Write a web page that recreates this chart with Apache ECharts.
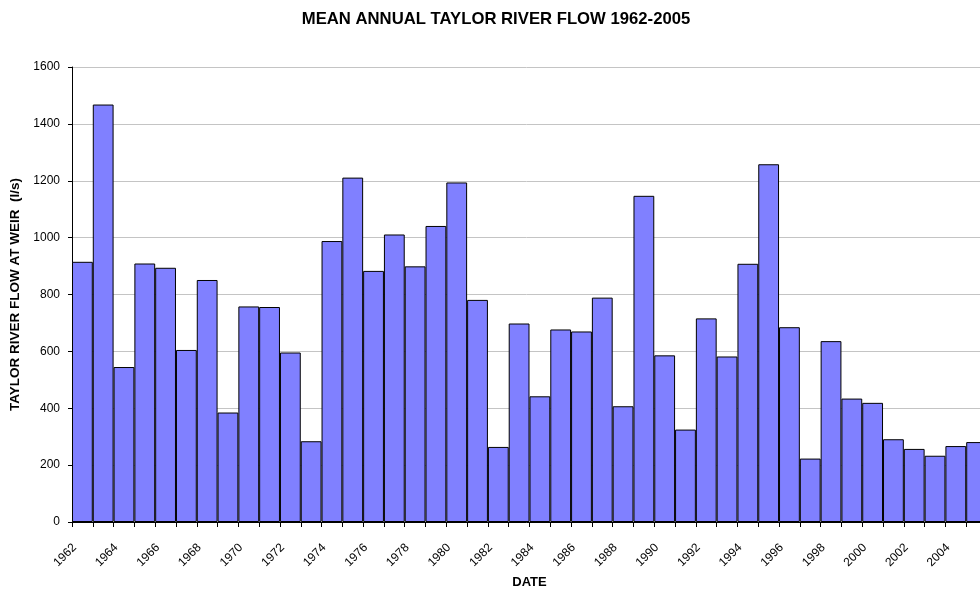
<!DOCTYPE html>
<html>
<head>
<meta charset="utf-8">
<script src="https://cdn.jsdelivr.net/npm/echarts@6/dist/echarts.min.js"></script>
<style>
html,body{margin:0;padding:0;background:#fff;}
#chart{width:980px;height:590px;}
</style>
</head>
<body>
<div id="chart"></div>
<script>
var years = [];
for (var y = 1962; y <= 2005; y++) years.push(String(y));
var flows = [915, 1468, 545, 909, 894, 605, 851, 385, 758, 756,
             596, 284, 988, 1211, 883, 1011, 899, 1041, 1194, 781,
             264, 698, 442, 677, 670, 789, 407, 1147, 586, 325,
             716, 582, 908, 1258, 685, 223, 636, 434, 419, 291,
             257, 233, 267, 281];
var yTicks = [0, 200, 400, 600, 800, 1000, 1200, 1400, 1600];

var chart = echarts.init(document.getElementById('chart'));
var font = 'Liberation Sans, Arial, sans-serif';
chart.setOption({
  animation: false,
  backgroundColor: '#ffffff',
  title: {
    text: 'MEAN ANNUAL TAYLOR RIVER FLOW 1962-2005',
    left: 491, top: 6, textAlign: 'center',
    textStyle: {fontFamily: font, fontSize: 16.7, fontWeight: 'bold', color: '#000'}
  },
  grid: {left: 72, top: 67, width: 915, height: 455, containLabel: false, outerBoundsMode: 'none'},
  xAxis: {
    type: 'category',
    data: years,
    boundaryGap: true,
    name: 'DATE',
    nameLocation: 'middle',
    nameGap: 54,
    nameTextStyle: {fontFamily: font, fontSize: 13, fontWeight: 'bold', color: '#000'},
    axisLine: {lineStyle: {color: '#000', width: 1}},
    axisTick: {show: true, interval: 0, length: 5, lineStyle: {color: '#000'}},
    axisLabel: {interval: 1, rotate: 45, fontFamily: font, fontSize: 12, color: '#000',
      margin: 16, padding: [0, 11, 0, 0]},
    splitLine: {show: false}
  },
  yAxis: {
    type: 'value',
    min: yTicks[0], max: yTicks[yTicks.length - 1], interval: 200,
    name: 'TAYLOR RIVER FLOW AT WEIR  (l/s)',
    nameLocation: 'middle',
    nameGap: 50,
    nameTextStyle: {fontFamily: font, fontSize: 13.5, fontWeight: 'bold', color: '#000'},
    axisLine: {show: true, lineStyle: {color: '#000', width: 1}},
    axisTick: {show: true, length: 4, lineStyle: {color: '#000'}},
    axisLabel: {fontFamily: font, fontSize: 12, color: '#000', margin: 12,
      formatter: function (v) { return String(v); }},
    splitLine: {show: true, lineStyle: {color: '#c4c4c4', width: 1}}
  },
  series: [{
    type: 'bar',
    data: flows,
    barCategoryGap: '0%',
    itemStyle: {color: '#8080ff', borderColor: '#000', borderWidth: 1}
  }]
});
</script>
</body>
</html>
